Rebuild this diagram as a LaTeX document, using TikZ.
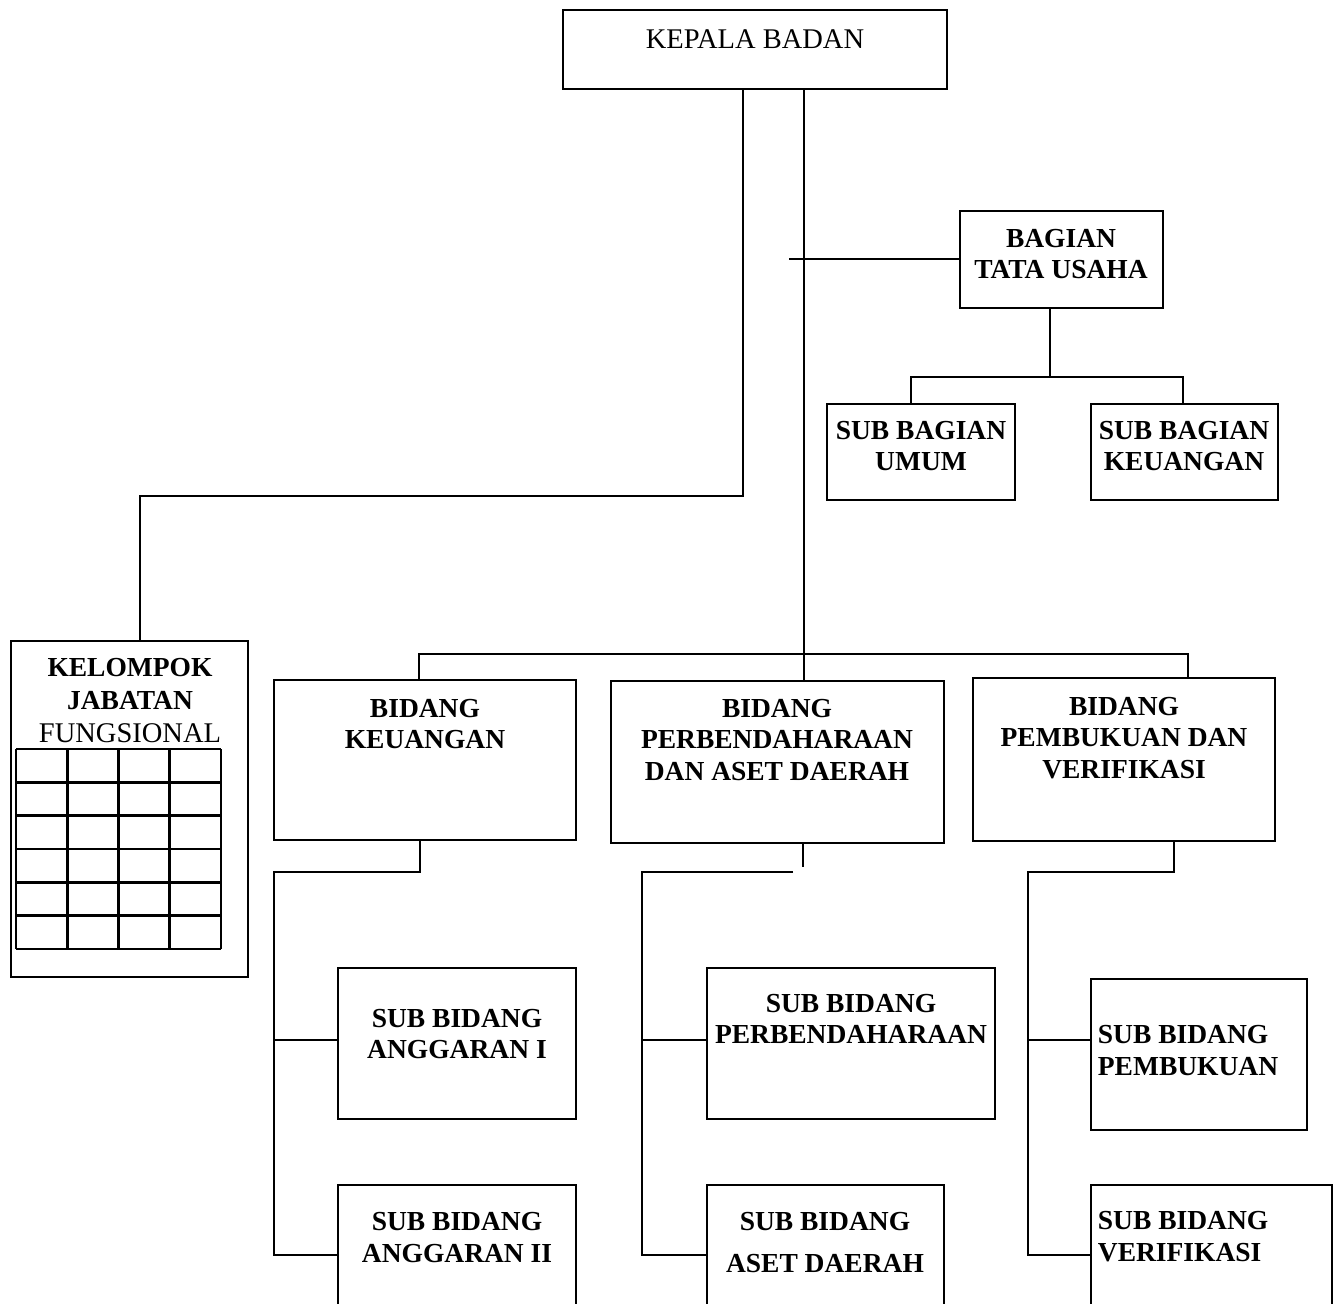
\documentclass[tikz,border=0pt]{standalone}
\usepackage{fontspec}
\setmainfont{Liberation Serif}
\begin{document}
\begin{tikzpicture}[x=1pt,y=-1pt,line width=1.8pt,
  box/.style={draw,rectangle,outer sep=0pt,inner sep=0pt,anchor=north west},
  lbl/.style={align=center,anchor=base,inner sep=0pt,font=\fontsize{27.5}{31.5}\selectfont\bfseries},
  lblL/.style={align=left,anchor=base west,inner sep=0pt,font=\fontsize{27.5}{31.5}\selectfont\bfseries},
  plain/.style={anchor=base,inner sep=0pt,font=\fontsize{28.5}{32}\selectfont},
  gridline/.style={line width=2.6pt}]
\useasboundingbox (0,0) rectangle (1339,1304);
\clip (0,0) rectangle (1339,1304);

% boxes
\node[box,minimum width=384pt,minimum height=79pt] (kb) at (563,10) {};
\node[box,minimum width=203pt,minimum height=97pt] (btu) at (960,211) {};
\node[box,minimum width=188pt,minimum height=96pt] (sbu) at (827,404) {};
\node[box,minimum width=187pt,minimum height=96pt] (sbk) at (1091,404) {};
\node[box,minimum width=237pt,minimum height=336pt] (kjf) at (11,641) {};
\node[box,minimum width=302pt,minimum height=160pt] (bk) at (274,680) {};
\node[box,minimum width=333pt,minimum height=162pt] (bpa) at (611,681) {};
\node[box,minimum width=302pt,minimum height=163pt] (bpv) at (973,678) {};
\node[box,minimum width=238pt,minimum height=151pt] (sba1) at (338,968) {};
\node[box,minimum width=288pt,minimum height=151pt] (sbp) at (707,968) {};
\node[box,minimum width=216pt,minimum height=151pt] (sbpb) at (1091,979) {};
\node[box,minimum width=238pt,minimum height=150pt] (sba2) at (338,1185) {};
\node[box,minimum width=237pt,minimum height=150pt] (sbad) at (707,1185) {};
\node[box,minimum width=241pt,minimum height=150pt] (sbv) at (1091,1185) {};

% grid inside KELOMPOK JABATAN FUNGSIONAL
\foreach \i in {0,...,4} \draw[gridline] ({16+\i*51.25},749) -- ({16+\i*51.25},949);
\foreach \j in {0,...,6} \draw[gridline] (16,{749+\j*33.333}) -- (221,{749+\j*33.333});

% texts (anchor = baseline of last line)
\node[plain] (t-kb) at (755,48) {KEPALA BADAN};
\node[lbl] (t-btu) at (1061,278.5) {BAGIAN\\TATA USAHA};
\node[lbl] (t-sbu) at (921,470.5) {SUB BAGIAN\\UMUM};
\node[lbl] (t-sbk) at (1184,470.5) {SUB BAGIAN\\KEUANGAN};
\node[lbl,font=\fontsize{27.5}{33}\selectfont\bfseries] (t-kjf) at (130,742) {KELOMPOK\\JABATAN\\{\mdseries\fontsize{28.5}{33}\selectfont FUNGSIONAL}};
\node[lbl] (t-bk) at (425,748.5) {BIDANG\\KEUANGAN};
\node[lbl] (t-bpa) at (777,780) {BIDANG\\PERBENDAHARAAN\\DAN ASET DAERAH};
\node[lbl] (t-bpv) at (1124,778) {BIDANG\\PEMBUKUAN DAN\\VERIFIKASI};
\node[lbl] (t-sba1) at (457,1058.5) {SUB BIDANG\\ANGGARAN I};
\node[lbl] (t-sbp) at (851,1043.5) {SUB BIDANG\\PERBENDAHARAAN};
\node[lblL] (t-sbpb) at (1097,1075) {SUB BIDANG\\PEMBUKUAN};
\node[lbl] (t-sba2) at (457,1262) {SUB BIDANG\\ANGGARAN II};
\node[lbl] (t-sbad) at (825,1272) {SUB BIDANG\\[10pt]ASET DAERAH};
\node[lblL] (t-sbv) at (1097,1261) {SUB BIDANG\\VERIFIKASI};

% connectors
\coordinate (kjfBend) at (743,496);
\coordinate (kjfTop) at (140,496);
\draw (kb.south -| kjfBend) -- (kjfBend) -- (kjfTop) -- (kjf.north -| kjfTop);

\coordinate (trunk) at (804,654);
\draw (kb.south -| trunk) -- (bpa.north -| trunk);
\coordinate (hbL) at (419,654);
\coordinate (hbR) at (1188,654);
\draw (bk.north -| hbL) -- (hbL) -- (hbR) -- (bpv.north -| hbR);

\coordinate (tuL) at (789,259);
\draw (tuL) -- (btu.west |- tuL);
\coordinate (tuJ) at (1050,377);
\coordinate (tuA) at (911,377);
\coordinate (tuB) at (1183,377);
\draw (btu.south -| tuJ) -- (tuJ);
\draw (sbu.north -| tuA) -- (tuA) -- (tuB) -- (sbk.north -| tuB);

\coordinate (kA) at (420,872);
\coordinate (kB) at (274,872);
\coordinate (kC) at (274,1040);
\coordinate (kD) at (274,1255);
\draw (bk.south -| kA) -- (kA) -- (kB) -- (kD) -- (sba2.west |- kD);
\draw (kC) -- (sba1.west |- kC);

\coordinate (pA) at (803,867);
\coordinate (pA2) at (793,872);
\coordinate (pB) at (642,872);
\coordinate (pC) at (642,1040);
\coordinate (pD) at (642,1255);
\draw (bpa.south -| pA) -- (pA);
\draw (pA2) -- (pB) -- (pD) -- (sbad.west |- pD);
\draw (pC) -- (sbp.west |- pC);

\coordinate (vA) at (1174,872);
\coordinate (vB) at (1028,872);
\coordinate (vC) at (1028,1040);
\coordinate (vD) at (1028,1255);
\draw (bpv.south -| vA) -- (vA) -- (vB) -- (vD) -- (sbv.west |- vD);
\draw (vC) -- (sbpb.west |- vC);
\end{tikzpicture}
\end{document}
